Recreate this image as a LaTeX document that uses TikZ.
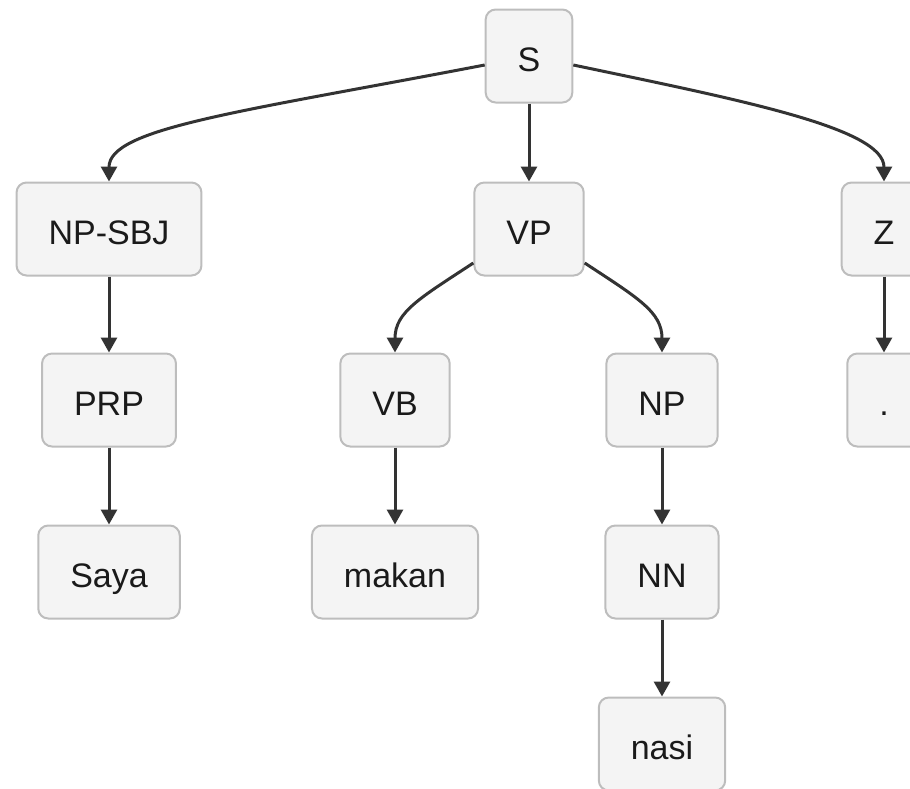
\documentclass[tikz,border=0pt]{standalone}
\usepackage{fontspec}
\setmainfont{Liberation Sans}
\usetikzlibrary{arrows.meta}
\definecolor{boxfill}{HTML}{F4F4F4}
\definecolor{boxline}{HTML}{BDBDBD}
\definecolor{edgecol}{HTML}{333333}
\definecolor{txtcol}{HTML}{1A1A1A}
\begin{document}
\begin{tikzpicture}[x=1pt,y=-1pt,
  tag/.style={draw=boxline, fill=boxfill, line width=2pt, rounded corners=10pt,
    minimum height=93pt, inner xsep=32pt, inner ysep=0pt,
    text height=36pt, text depth=6pt, text=txtcol,
    font=\fontsize{34}{40}\selectfont},
  link/.style={draw=edgecol, line width=3pt,
    -{Triangle[length=15pt,width=16pt]}}
]
\useasboundingbox (0,0) rectangle (910,788);
\clip (0,0) rectangle (910,788);

% nodes of the parse tree
\node[tag] (s)    at (529,56)  {S};
\node[tag] (npsbj) at (109,229) {NP-SBJ};
\node[tag] (vp)   at (529,229) {VP};
\node[tag] (z)    at (884,229) {Z};
\node[tag] (prp)  at (109,400) {PRP};
\node[tag] (vb)   at (395,400) {VB};
\node[tag] (np)   at (662,400) {NP};
\node[tag] (dot)  at (884,400) {.};
\node[tag] (saya) at (109,572) {Saya};
\node[tag] (makan) at (395,572) {makan};
\node[tag] (nn)   at (662,572) {NN};
\node[tag] (nasi) at (662,744) {nasi};

% curved branches
\draw[link] (s.west |- 0,65) .. controls (240,112) and (109,128) .. (npsbj.north);
\draw[link] (s.east |- 0,65) .. controls (740,100) and (884,128) .. (z.north);
\draw[link] (vp.west |- 0,263) .. controls (420,298) and (395,312) .. (vb.north);
\draw[link] (vp.east |- 0,263) .. controls (638,298) and (662,312) .. (np.north);

% straight branches
\draw[link] (s) -- (vp);
\draw[link] (npsbj) -- (prp);
\draw[link] (prp) -- (saya);
\draw[link] (vb) -- (makan);
\draw[link] (np) -- (nn);
\draw[link] (nn) -- (nasi);
\draw[link] (z) -- (dot);
\end{tikzpicture}
\end{document}
